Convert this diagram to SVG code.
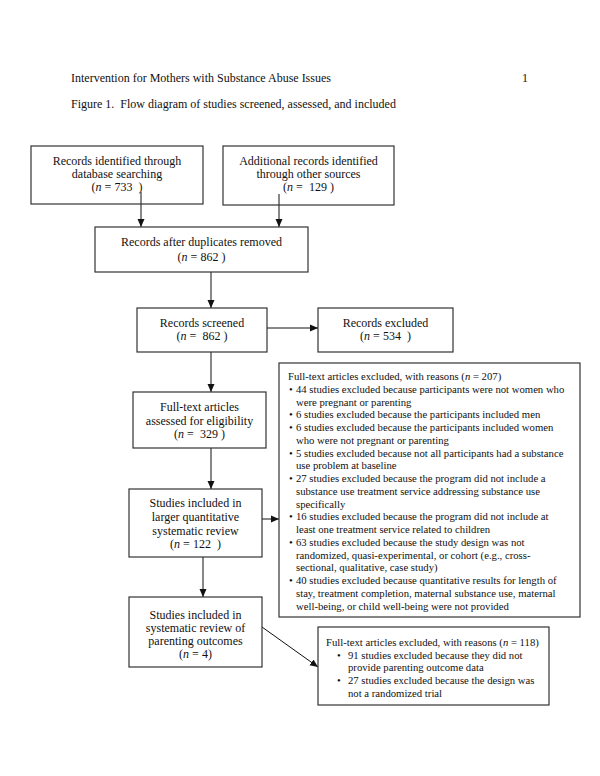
<svg xmlns="http://www.w3.org/2000/svg" width="600" height="776" viewBox="0 0 600 776">
<defs>
<marker id="ah" markerUnits="userSpaceOnUse" markerWidth="8" markerHeight="8" viewBox="0 0 8 8" refX="8" refY="4" orient="auto">
<path d="M0,0.5 L8,4 L0,7.5 Z" fill="#111"/>
</marker>
<style>
text{font-family:"Liberation Serif","Times New Roman",serif;font-size:12px;fill:#111;white-space:pre}
.c{text-anchor:middle}
.s{font-size:10.7px}
.box{fill:#fff;stroke:#333;stroke-width:1.2}
.ln{stroke:#111;stroke-width:1;fill:none;marker-end:url(#ah)}
</style>
</defs>
<rect width="600" height="776" fill="#fff"/>
<text x="71" y="82">Intervention for Mothers with Substance Abuse Issues</text>
<text x="522" y="82">1</text>
<text x="71" y="108">Figure 1.  Flow diagram of studies screened, assessed, and included</text>

<g id="connectors">
<line class="ln" x1="141" y1="192" x2="141" y2="227"/>
<line class="ln" x1="279" y1="194" x2="279" y2="227"/>
<line class="ln" x1="211" y1="272" x2="211" y2="308"/>
<line class="ln" x1="267" y1="328" x2="318" y2="328"/>
<line class="ln" x1="211" y1="352" x2="211" y2="392"/>
<line class="ln" x1="211" y1="448" x2="211" y2="489"/>
<line class="ln" x1="262" y1="519" x2="279" y2="519"/>
<line class="ln" x1="203" y1="557" x2="203" y2="597"/>
<line class="ln" x1="262" y1="627" x2="318" y2="667"/>
</g>

<g id="n1">
<rect class="box" x="31" y="146" width="172" height="58" fill-opacity="0"/>
<text class="c" x="117" y="165">Records identified through</text>
<text class="c" x="117" y="178">database searching</text>
<text class="c" x="117" y="191">(<tspan font-style="italic">n</tspan> = 733  )</text>
</g>
<g id="n2">
<rect class="box" x="223" y="146" width="171" height="59" fill-opacity="0"/>
<text class="c" x="308.5" y="165">Additional records identified</text>
<text class="c" x="308.5" y="178">through other sources</text>
<text class="c" x="308.5" y="191">(<tspan font-style="italic">n</tspan> =  129 )</text>
</g>
<g id="n3">
<rect class="box" x="95" y="227" width="213" height="45"/>
<text class="c" x="201.5" y="246">Records after duplicates removed</text>
<text class="c" x="201.5" y="261">(<tspan font-style="italic">n</tspan> = 862 )</text>
</g>
<g id="n4">
<rect class="box" x="137" y="308" width="130" height="44"/>
<text class="c" x="202" y="327">Records screened</text>
<text class="c" x="202" y="340">(<tspan font-style="italic">n</tspan> =  862 )</text>
</g>
<g id="n5">
<rect class="box" x="318" y="308" width="135" height="44"/>
<text class="c" x="385.5" y="327">Records excluded</text>
<text class="c" x="385.5" y="340">(<tspan font-style="italic">n</tspan> = 534  )</text>
</g>
<g id="n6">
<rect class="box" x="133" y="392" width="133" height="56"/>
<text class="c" x="199.5" y="411">Full-text articles</text>
<text class="c" x="199.5" y="425">assessed for eligibility</text>
<text class="c" x="199.5" y="438">(<tspan font-style="italic">n</tspan> =  329 )</text>
</g>
<g id="n7">
<rect class="box" x="279" y="363" width="301" height="254"/>
<text class="s" x="288" y="380">Full-text articles excluded, with reasons (<tspan font-style="italic">n</tspan> = 207)</text>
<text class="s" x="289" y="392.8">•</text><text class="s" x="296" y="392.8">44 studies excluded because participants were not women who</text>
<text class="s" x="296" y="405.5">were pregnant or parenting</text>
<text class="s" x="289" y="418.3">•</text><text class="s" x="296" y="418.3">6 studies excluded because the participants included men</text>
<text class="s" x="289" y="431">•</text><text class="s" x="296" y="431">6 studies excluded because the participants included women</text>
<text class="s" x="296" y="443.8">who were not pregnant or parenting</text>
<text class="s" x="289" y="456.6">•</text><text class="s" x="296" y="456.6">5 studies excluded because not all participants had a substance</text>
<text class="s" x="296" y="469.3">use problem at baseline</text>
<text class="s" x="289" y="482.1">•</text><text class="s" x="296" y="482.1">27 studies excluded because the program did not include a</text>
<text class="s" x="296" y="494.8">substance use treatment service addressing substance use</text>
<text class="s" x="296" y="507.6">specifically</text>
<text class="s" x="289" y="520.4">•</text><text class="s" x="296" y="520.4">16 studies excluded because the program did not include at</text>
<text class="s" x="296" y="533.1">least one treatment service related to children</text>
<text class="s" x="289" y="545.9">•</text><text class="s" x="296" y="545.9">63 studies excluded because the study design was not</text>
<text class="s" x="296" y="558.6">randomized, quasi-experimental, or cohort (e.g., cross-</text>
<text class="s" x="296" y="571.4">sectional, qualitative, case study)</text>
<text class="s" x="289" y="584.2">•</text><text class="s" x="296" y="584.2">40 studies excluded because quantitative results for length of</text>
<text class="s" x="296" y="596.9">stay, treatment completion, maternal substance use, maternal</text>
<text class="s" x="296" y="609.7">well-being, or child well-being were not provided</text>
</g>
<g id="n8">
<rect class="box" x="129" y="489" width="133" height="68"/>
<text class="c" x="195.5" y="507">Studies included in</text>
<text class="c" x="195.5" y="521">larger quantitative</text>
<text class="c" x="195.5" y="535">systematic review</text>
<text class="c" x="195.5" y="548">(<tspan font-style="italic">n</tspan> = 122  )</text>
</g>
<g id="n9">
<rect class="box" x="129" y="597" width="133" height="70"/>
<text class="c" x="195.5" y="619">Studies included in</text>
<text class="c" x="195.5" y="632">systematic review of</text>
<text class="c" x="195.5" y="645">parenting outcomes</text>
<text class="c" x="195.5" y="658">(<tspan font-style="italic">n</tspan> = 4)</text>
</g>
<g id="n10">
<rect class="box" x="318" y="627" width="231" height="78"/>
<text class="s" x="326" y="646">Full-text articles excluded, with reasons (<tspan font-style="italic">n</tspan> = 118)</text>
<text class="s" x="337" y="658.7">•</text><text class="s" x="348" y="658.7">91 studies excluded because they did not</text>
<text class="s" x="348" y="671.4">provide parenting outcome data</text>
<text class="s" x="337" y="684.1">•</text><text class="s" x="348" y="684.1">27 studies excluded because the design was</text>
<text class="s" x="348" y="696.8">not a randomized trial</text>
</g>
</svg>
